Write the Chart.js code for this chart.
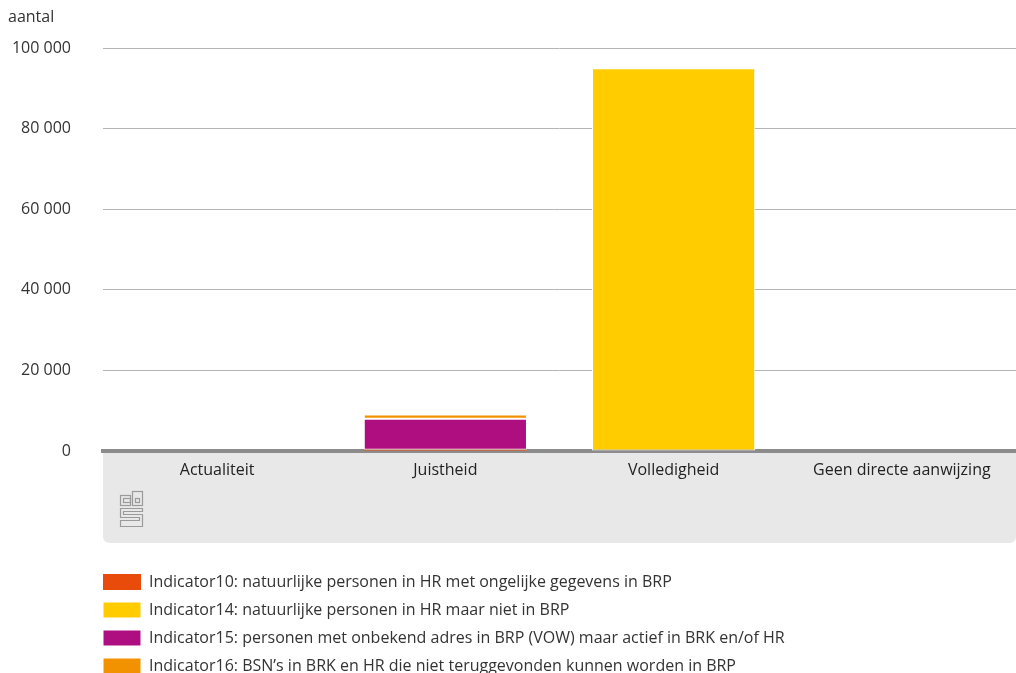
<!DOCTYPE html>
<html>
<head>
<meta charset="utf-8">
<script src="https://cdn.jsdelivr.net/npm/chart.js@4.4.1/dist/chart.umd.min.js"></script>
<style>
  html, body { margin: 0; padding: 0; background: #ffffff; }
  #wrap { width: 1016px; height: 673px; position: relative; }
</style>
</head>
<body>
<div id="wrap"><canvas id="barChart"></canvas></div>
<script>
// categories and series
var categories = ['Actualiteit', 'Juistheid', 'Volledigheid', 'Geen directe aanwijzing'];
var indicator10 = [0, 300, 0, 0];
var indicator14 = [0, 0, 95000, 0];
var indicator15 = [0, 7700, 0, 0];
var indicator16 = [0, 1050, 0, 0];
var yTicks = [0, 20000, 40000, 60000, 80000, 100000];

var fontFamily = "'Open Sans', sans-serif";

// grey band under the x axis and the little cbs mark
var bandPlugin = {
    id: 'band',
    beforeDraw: function (chart) {
        var ctx = chart.ctx;
        var area = chart.chartArea;
        var top = area.bottom;
        var bottom = area.bottom + 92;
        var left = area.left;
        var right = chart.width;
        var r = 7;
        ctx.save();
        ctx.fillStyle = '#e8e8e8';
        ctx.beginPath();
        ctx.moveTo(left, top);
        ctx.lineTo(right, top);
        ctx.lineTo(right, bottom - r);
        ctx.quadraticCurveTo(right, bottom, right - r, bottom);
        ctx.lineTo(left + r, bottom);
        ctx.quadraticCurveTo(left, bottom, left, bottom - r);
        ctx.closePath();
        ctx.fill();

        // cbs mark
        var lx = left + 17.5, ly = top + 40.5;
        ctx.strokeStyle = '#9a9a9a';
        ctx.lineWidth = 1.2;
        ctx.strokeRect(lx, ly + 4, 10, 10);
        ctx.strokeRect(lx + 3, ly + 7, 7, 4);
        ctx.strokeRect(lx + 12, ly, 10, 14);
        ctx.strokeRect(lx + 15, ly + 7, 4, 4);
        ctx.beginPath();
        ctx.moveTo(lx + 22, ly + 17);
        ctx.lineTo(lx, ly + 17);
        ctx.lineTo(lx, ly + 26);
        ctx.lineTo(lx + 19, ly + 26);
        ctx.lineTo(lx + 19, ly + 29);
        ctx.lineTo(lx, ly + 29);
        ctx.lineTo(lx, ly + 35);
        ctx.lineTo(lx + 22, ly + 35);
        ctx.lineTo(lx + 22, ly + 23);
        ctx.lineTo(lx + 3, ly + 23);
        ctx.lineTo(lx + 3, ly + 20);
        ctx.lineTo(lx + 22, ly + 20);
        ctx.closePath();
        ctx.stroke();
        ctx.restore();
    },
    afterLayout: function (chart) {
        // line the legend up with the plot area and push it to the bottom edge
        var lg = chart.legend;
        lg.left = chart.chartArea.left - 12;
        lg.top += 11;
        lg.bottom += 11;
    }
};

var ctx = document.getElementById('barChart').getContext('2d');
var barChart = new Chart(ctx, {
    type: 'bar',
    data: {
        labels: categories,
        datasets: [{
            label: 'Indicator10: natuurlijke personen in HR met ongelijke gegevens in BRP',
            data: indicator10,
            backgroundColor: '#e94c0a',
            borderWidth: 0
        }, {
            label: 'Indicator14: natuurlijke personen in HR maar niet in BRP',
            data: indicator14,
            backgroundColor: '#ffcc00',
            borderColor: '#ffffff',
            borderWidth: 1,
            borderSkipped: false
        }, {
            label: 'Indicator15: personen met onbekend adres in BRP (VOW) maar actief in BRK en/of HR',
            data: indicator15,
            backgroundColor: '#af0e80',
            borderColor: '#ffffff',
            borderWidth: 1,
            borderSkipped: false
        }, {
            label: 'Indicator16: BSN\u2019s in BRK en HR die niet teruggevonden kunnen worden in BRP',
            data: indicator16,
            backgroundColor: '#f39200',
            borderColor: '#ffffff',
            borderWidth: 1,
            borderSkipped: false
        }]
    },
    plugins: [bandPlugin],
    options: {
        responsive: true,
        maintainAspectRatio: false,
        animation: false,
        layout: { padding: { left: 8, right: 0, top: 0, bottom: 0 } },
        datasets: {
            bar: { categoryPercentage: 1, barPercentage: 0.715 }
        },
        plugins: {
            title: {
                display: true,
                text: 'aantal',
                align: 'start',
                color: '#333333',
                font: { family: fontFamily, size: 16, weight: 'normal' },
                padding: { top: 8, bottom: 21 }
            },
            legend: {
                display: true,
                position: 'bottom',
                align: 'start',
                labels: {
                    color: '#333333',
                    boxWidth: 38,
                    boxHeight: 16,
                    padding: 12,
                    font: { family: fontFamily, size: 16 }
                }
            },
            tooltip: { enabled: false }
        },
        scales: {
            x: {
                stacked: true,
                grid: { display: false },
                border: { display: true, color: '#8c8c8c', width: 4 },
                ticks: {
                    color: '#222222',
                    padding: 2,
                    font: { family: fontFamily, size: 16 }
                },
                afterFit: function (scale) {
                    scale.height = 100;
                }
            },
            y: {
                stacked: true,
                min: 0,
                max: 100000,
                afterBuildTicks: function (scale) {
                    scale.ticks = yTicks.map(function (v) { return { value: v }; });
                },
                afterFit: function (scale) {
                    scale.width = 95;
                },
                border: { display: false },
                grid: {
                    drawTicks: false,
                    color: function (c) {
                        return c.tick && c.tick.value === 0 ? 'rgba(0,0,0,0)' : '#b5b5b5';
                    }
                },
                ticks: {
                    color: '#333333',
                    padding: 32,
                    font: { family: fontFamily, size: 16 },
                    callback: function (value) {
                        return String(value).replace(/\B(?=(\d{3})+(?!\d))/g, ' ');
                    }
                }
            }
        }
    }
});
</script>
</body>
</html>
